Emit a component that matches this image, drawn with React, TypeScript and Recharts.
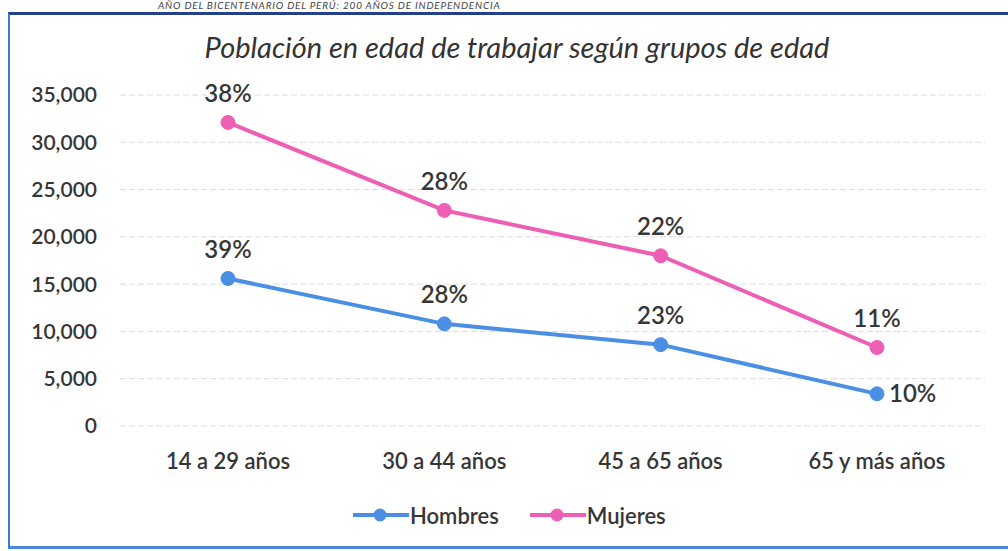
import React from "react";
import {
  LineChart,
  Line,
  XAxis,
  YAxis,
  CartesianGrid,
  LabelList,
} from "recharts";

const categorias = ["14 a 29 años", "30 a 44 años", "45 a 65 años", "65 y más años"];
const hombres = [15600, 10800, 8600, 3400];
const mujeres = [32100, 22800, 18000, 8300];
const hombresPct = ["39%", "28%", "23%", "10%"];
const mujeresPct = ["38%", "28%", "22%", "11%"];
const yTicks = [0, 5000, 10000, 15000, 20000, 25000, 30000, 35000];

const AZUL = "#4a8fe3";
const ROSA = "#ec5fb4";
const TEXTO = "#363636";
const FUENTE = "Lato, 'Open Sans', sans-serif";

const data = categorias.map((c, i) => ({
  cat: c,
  hombres: hombres[i],
  mujeres: mujeres[i],
  hPct: hombresPct[i],
  mPct: mujeresPct[i],
}));

const fmt = (v: number) => v.toLocaleString("en-US");

function etiqueta(pcts: string[], serie: "h" | "m") {
  return (props: any) => {
    const { x, y, index } = props;
    const lado = serie === "h" && index === pcts.length - 1;
    return (
      <text
        x={lado ? x + 12 : x}
        y={lado ? y - 1 : y - 30}
        textAnchor={lado ? "start" : "middle"}
        dominantBaseline="central"
        fill={TEXTO}
        fontSize={24}
        fontFamily={FUENTE}
        fontWeight={600}
      >
        {pcts[index]}
      </text>
    );
  };
}

function Leyenda() {
  const item = (color: string, nombre: string) => (
    <div style={{ display: "flex", alignItems: "center", marginRight: 30 }}>
      <svg width={58} height={16}>
        <line x1={1} y1={8} x2={57} y2={8} stroke={color} strokeWidth={4} />
        <circle cx={28} cy={8} r={6.5} fill={color} />
      </svg>
      <span style={{ fontSize: 22, color: TEXTO, fontFamily: FUENTE, fontWeight: 600 }}>
        {nombre}
      </span>
    </div>
  );
  return (
    <div
      style={{
        position: "absolute",
        left: 352,
        top: 500,
        display: "flex",
        alignItems: "center",
        height: 30,
      }}
    >
      {item(AZUL, "Hombres")}
      {item(ROSA, "Mujeres")}
    </div>
  );
}

export default function App() {
  return (
    <div style={{ position: "absolute", left: 0, top: 0, width: 1008, height: 551, background: "#fff", overflow: "hidden" }}>
      <div
        style={{
          position: "absolute",
          left: 158,
          top: -1,
          fontSize: 10,
          fontStyle: "italic",
          fontFamily: FUENTE,
          color: "#444",
          letterSpacing: 0.8,
        }}
      >
        AÑO DEL BICENTENARIO DEL PERÚ: 200 AÑOS DE INDEPENDENCIA
      </div>
      <div
        style={{
          position: "absolute",
          left: 8,
          top: 12,
          width: 1004,
          height: 531,
          borderTop: "3px solid #24408a",
          borderLeft: "2px solid #3d78d8",
          borderBottom: "3px solid #4a86d9",
        }}
      />
      <div
        style={{
          position: "absolute",
          left: 0,
          top: 29,
          width: 1034,
          textAlign: "center",
          fontSize: 29,
          fontStyle: "italic",
          fontFamily: FUENTE,
          color: "#333",
        }}
      >
        Población en edad de trabajar según grupos de edad
      </div>
      <div style={{ position: "absolute", left: 0, top: 0 }}>
        <LineChart
          width={1008}
          height={551}
          data={data}
          margin={{ top: 95, right: 23, left: 0, bottom: 95 }}
        >
          <CartesianGrid vertical={false} stroke="#dcdcdc" strokeDasharray="6 3" />
          <XAxis
            dataKey="cat"
            axisLine={false}
            tickLine={false}
            padding={{ left: 108, right: 108 }}
            tickMargin={21}
            tick={{ fill: TEXTO, fontSize: 22, fontFamily: FUENTE, fontWeight: 600 }}
            interval={0}
          />
          <YAxis
            width={120}
            domain={[0, 35000]}
            ticks={yTicks}
            tickFormatter={fmt}
            axisLine={false}
            tickLine={false}
            tickMargin={17}
            tick={{ fill: TEXTO, fontSize: 21, fontFamily: FUENTE, fontWeight: 600 }}
          />
          <Line
            dataKey="hombres"
            name="Hombres"
            stroke={AZUL}
            strokeWidth={4}
            dot={{ r: 7, fill: AZUL, stroke: AZUL, strokeWidth: 1 }}
            isAnimationActive={false}
          >
            <LabelList dataKey="hPct" content={etiqueta(hombresPct, "h")} />
          </Line>
          <Line
            dataKey="mujeres"
            name="Mujeres"
            stroke={ROSA}
            strokeWidth={4}
            dot={{ r: 7, fill: ROSA, stroke: ROSA, strokeWidth: 1 }}
            isAnimationActive={false}
          >
            <LabelList dataKey="mPct" content={etiqueta(mujeresPct, "m")} />
          </Line>
        </LineChart>
      </div>
      <Leyenda />
    </div>
  );
}
